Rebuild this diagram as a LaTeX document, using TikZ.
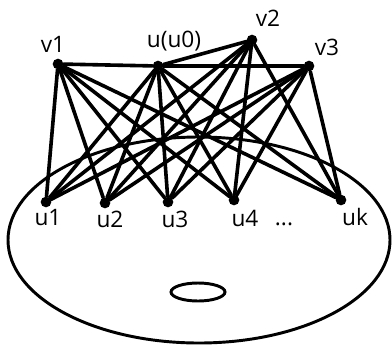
\documentclass[tikz,border=0pt]{standalone}
\usepackage{fontspec}
\setmainfont{Open Sans}
\begin{document}
\begin{tikzpicture}[x=0.75pt,y=-0.75pt,
  edge/.style={line width=2.7pt,line cap=round},
  vtx/.style={circle,fill=black,inner sep=0pt,minimum size=8pt},
  lbl/.style={font=\fontsize{17}{19}\selectfont,inner sep=0pt}]
\useasboundingbox (0,0) rectangle (392,351);
% base surface
\draw[line width=2.2pt] (199,240) ellipse [x radius=191, y radius=103];
\draw[line width=2.2pt] (198,292) ellipse [x radius=27, y radius=9];
% vertices
\node[vtx] (v1) at (58,64) {};
\node[vtx] (u0) at (158,66) {};
\node[vtx] (v2) at (252,40) {};
\node[vtx] (v3) at (309,66) {};
\node[vtx] (u1) at (46,202) {};
\node[vtx] (u2) at (105,203) {};
\node[vtx] (u3) at (168,202) {};
\node[vtx] (u4) at (234,200) {};
\node[vtx] (uk) at (341,200) {};
% edges
\draw[edge] (v1) -- (u0);
\draw[edge] (u0) -- (v2);
\draw[edge] (u0) -- (v3);
\foreach \a in {v1,u0,v2,v3}{
  \foreach \b in {u1,u2,u3,u4,uk}{
    \draw[edge] (\a) -- (\b);
  }
}
% labels
\node[lbl] (lv1) at (53,44) {v1};
\node[lbl] (lu0) at (174,41) {u(u0)};
\node[lbl] (lv2) at (268,18) {v2};
\node[lbl] (lv3) at (327,47) {v3};
\node[lbl] (lu1) at (48,218) {u1};
\node[lbl] (lu2) at (110,219) {u2};
\node[lbl] (lu3) at (175,219) {u3};
\node[lbl] (lu4) at (245,218) {u4};
\node[lbl] (ldots) at (284,224) {...};
\node[lbl] (luk) at (355,217) {uk};
\end{tikzpicture}
\end{document}
